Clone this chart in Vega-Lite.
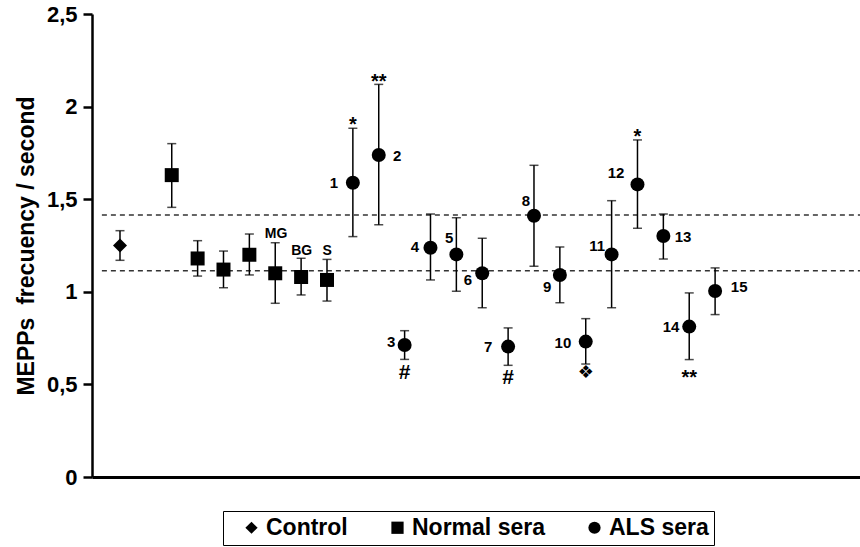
{
  "$schema": "https://vega.github.io/schema/vega-lite/v6.json",
  "width": 768,
  "height": 463,
  "autosize": {"type": "none"},
  "padding": {"left": 92, "top": 14, "right": 0, "bottom": 70},
  "background": "white",
  "config": {
    "view": {"stroke": null},
    "font": "Liberation Sans",
    "text": {"font": "Liberation Sans", "fontWeight": "bold", "color": "black"},
    "axis": {
      "grid": false,
      "domainColor": "black",
      "tickColor": "black",
      "labelColor": "black",
      "titleColor": "black",
      "labelFont": "Liberation Sans",
      "titleFont": "Liberation Sans",
      "labelFontWeight": "bold",
      "titleFontWeight": "bold"
    },
    "axisX": {"domainWidth": 3, "ticks": false, "labels": false, "title": null},
    "axisY": {"domainWidth": 2.5, "tickWidth": 2.5, "tickSize": 9, "labelFontSize": 22, "labelPadding": 6, "titleFontSize": 23, "titlePadding": 8}
  },
  "datasets": {
    "points": [
      {"group": "Control", "idx": 1, "mean": 1.25, "lo": 1.17, "hi": 1.33},
      {"group": "Normal sera", "idx": 3, "mean": 1.63, "lo": 1.456, "hi": 1.80},
      {"group": "Normal sera", "idx": 4, "mean": 1.18, "lo": 1.085, "hi": 1.276},
      {"group": "Normal sera", "idx": 5, "mean": 1.12, "lo": 1.022, "hi": 1.22},
      {"group": "Normal sera", "idx": 6, "mean": 1.20, "lo": 1.091, "hi": 1.312},
      {"group": "Normal sera", "idx": 7, "mean": 1.10, "lo": 0.938, "hi": 1.265},
      {"group": "Normal sera", "idx": 8, "mean": 1.08, "lo": 0.983, "hi": 1.181},
      {"group": "Normal sera", "idx": 9, "mean": 1.064, "lo": 0.95, "hi": 1.175},
      {"group": "ALS sera", "idx": 10, "mean": 1.589, "lo": 1.298, "hi": 1.883},
      {"group": "ALS sera", "idx": 11, "mean": 1.739, "lo": 1.362, "hi": 2.12},
      {"group": "ALS sera", "idx": 12, "mean": 0.713, "lo": 0.635, "hi": 0.79},
      {"group": "ALS sera", "idx": 13, "mean": 1.238, "lo": 1.064, "hi": 1.42},
      {"group": "ALS sera", "idx": 14, "mean": 1.202, "lo": 1.003, "hi": 1.40},
      {"group": "ALS sera", "idx": 15, "mean": 1.10, "lo": 0.914, "hi": 1.289},
      {"group": "ALS sera", "idx": 16, "mean": 0.704, "lo": 0.603, "hi": 0.805},
      {"group": "ALS sera", "idx": 17, "mean": 1.411, "lo": 1.138, "hi": 1.683},
      {"group": "ALS sera", "idx": 18, "mean": 1.091, "lo": 0.941, "hi": 1.242},
      {"group": "ALS sera", "idx": 19, "mean": 0.731, "lo": 0.61, "hi": 0.855},
      {"group": "ALS sera", "idx": 20, "mean": 1.202, "lo": 0.914, "hi": 1.492},
      {"group": "ALS sera", "idx": 21, "mean": 1.58, "lo": 1.343, "hi": 1.82},
      {"group": "ALS sera", "idx": 22, "mean": 1.301, "lo": 1.177, "hi": 1.42},
      {"group": "ALS sera", "idx": 23, "mean": 0.812, "lo": 0.634, "hi": 0.994},
      {"group": "ALS sera", "idx": 24, "mean": 1.004, "lo": 0.877, "hi": 1.129}
    ],
    "refs": [{"level": 1.415}, {"level": 1.114}],
    "annotations": [
      {"kind": "num", "px": 9.27, "py": 1.59, "label": "1"},
      {"kind": "num", "px": 11.71, "py": 1.735, "label": "2"},
      {"kind": "num", "px": 11.48, "py": 0.73, "label": "3"},
      {"kind": "num", "px": 12.4, "py": 1.243, "label": "4"},
      {"kind": "num", "px": 13.72, "py": 1.29, "label": "5"},
      {"kind": "num", "px": 14.45, "py": 1.064, "label": "6"},
      {"kind": "num", "px": 15.23, "py": 0.704, "label": "7"},
      {"kind": "num", "px": 16.69, "py": 1.492, "label": "8"},
      {"kind": "num", "px": 17.51, "py": 1.028, "label": "9"},
      {"kind": "num", "px": 18.12, "py": 0.725, "label": "10"},
      {"kind": "num", "px": 19.44, "py": 1.247, "label": "11"},
      {"kind": "num", "px": 20.17, "py": 1.64, "label": "12"},
      {"kind": "num", "px": 22.76, "py": 1.294, "label": "13"},
      {"kind": "num", "px": 22.3, "py": 0.812, "label": "14"},
      {"kind": "num", "px": 24.93, "py": 1.028, "label": "15"},
      {"kind": "code", "px": 7.03, "py": 1.312, "label": "MG"},
      {"kind": "code", "px": 8.02, "py": 1.222, "label": "BG"},
      {"kind": "code", "px": 9.01, "py": 1.222, "label": "S"},
      {"kind": "star", "px": 10, "py": 1.928, "label": "*"},
      {"kind": "star", "px": 11, "py": 2.161, "label": "**"},
      {"kind": "star", "px": 21, "py": 1.864, "label": "*"},
      {"kind": "star", "px": 23, "py": 0.563, "label": "**"},
      {"kind": "hash", "px": 12, "py": 0.56, "label": "#"},
      {"kind": "hash", "px": 16, "py": 0.533, "label": "#"},
      {"kind": "sym", "px": 19, "py": 0.56, "label": "❖"}
    ]
  },
  "layer": [
    {
      "data": {"name": "refs"},
      "mark": {"type": "rule", "strokeDash": [5, 4], "color": "#333333", "strokeWidth": 1.5},
      "encoding": {
        "y": {"field": "level", "type": "quantitative", "scale": {"domain": [0, 2.5], "nice": false, "zero": false}},
        "x": {"datum": 0.3, "type": "quantitative", "scale": {"domain": [-0.082, 29.6], "nice": false, "zero": false}},
        "x2": {"datum": 29.6}
      }
    },
    {
      "data": {"name": "points"},
      "mark": {"type": "rule", "color": "black", "strokeWidth": 1.5},
      "encoding": {
        "x": {"field": "idx", "type": "quantitative", "scale": {"domain": [-0.082, 29.6], "nice": false, "zero": false}},
        "y": {"field": "lo", "type": "quantitative", "scale": {"domain": [0, 2.5], "nice": false, "zero": false}},
        "y2": {"field": "hi"}
      }
    },
    {
      "data": {"name": "points"},
      "mark": {"type": "tick", "orient": "horizontal", "color": "black", "size": 9, "thickness": 1.5},
      "encoding": {
        "x": {"field": "idx", "type": "quantitative", "scale": {"domain": [-0.082, 29.6], "nice": false, "zero": false}},
        "y": {"field": "lo", "type": "quantitative", "scale": {"domain": [0, 2.5], "nice": false, "zero": false}}
      }
    },
    {
      "data": {"name": "points"},
      "mark": {"type": "tick", "orient": "horizontal", "color": "black", "size": 9, "thickness": 1.5},
      "encoding": {
        "x": {"field": "idx", "type": "quantitative", "scale": {"domain": [-0.082, 29.6], "nice": false, "zero": false}},
        "y": {"field": "hi", "type": "quantitative", "scale": {"domain": [0, 2.5], "nice": false, "zero": false}}
      }
    },
    {
      "data": {"name": "points"},
      "mark": {"type": "point", "filled": true, "opacity": 1, "size": 196},
      "encoding": {
        "x": {
          "field": "idx", "type": "quantitative",
          "scale": {"domain": [-0.082, 29.6], "nice": false, "zero": false},
          "axis": {"title": null, "labels": false, "ticks": false, "grid": false}
        },
        "y": {
          "field": "mean", "type": "quantitative",
          "scale": {"domain": [0, 2.5], "nice": false, "zero": false},
          "axis": {
            "title": "MEPPs\u00a0 frecuency / second",
            "values": [0, 0.5, 1, 1.5, 2, 2.5],
            "labelExpr": "replace(toString(datum.value), '.', ',')"
          }
        },
        "shape": {
          "field": "group", "type": "nominal",
          "scale": {"domain": ["Control", "Normal sera", "ALS sera"], "range": ["diamond", "square", "circle"]},
          "legend": {
            "title": " ", "titleOrient": "left", "titleFontSize": 23, "titlePadding": 12,
            "orient": "none", "legendX": 131, "legendY": 497, "direction": "horizontal",
            "labelFont": "Liberation Sans", "labelFontSize": 23, "labelFontWeight": "bold", "labelColor": "black",
            "labelOffset": 3, "columnPadding": 38, "padding": 5,
            "symbolSize": 150, "symbolFillColor": "black", "symbolStrokeWidth": 0,
            "strokeColor": "black", "fillColor": "white", "labelLimit": 300,
            "encode": {"legend": {"update": {"strokeWidth": {"value": 2}}}}
          }
        },
        "color": {"value": "black"}
      }
    },
    {
      "data": {"name": "annotations"},
      "transform": [{"filter": "datum.kind == 'num'"}],
      "mark": {"type": "text", "fontSize": 15, "baseline": "middle", "align": "center"},
      "encoding": {
        "x": {"field": "px", "type": "quantitative", "scale": {"domain": [-0.082, 29.6], "nice": false, "zero": false}},
        "y": {"field": "py", "type": "quantitative", "scale": {"domain": [0, 2.5], "nice": false, "zero": false}},
        "text": {"field": "label", "type": "nominal"}
      }
    },
    {
      "data": {"name": "annotations"},
      "transform": [{"filter": "datum.kind == 'code'"}],
      "mark": {"type": "text", "fontSize": 14, "baseline": "middle", "align": "center"},
      "encoding": {
        "x": {"field": "px", "type": "quantitative", "scale": {"domain": [-0.082, 29.6], "nice": false, "zero": false}},
        "y": {"field": "py", "type": "quantitative", "scale": {"domain": [0, 2.5], "nice": false, "zero": false}},
        "text": {"field": "label", "type": "nominal"}
      }
    },
    {
      "data": {"name": "annotations"},
      "transform": [{"filter": "datum.kind == 'star'"}],
      "mark": {"type": "text", "fontSize": 20, "baseline": "middle", "align": "center", "dy": 5},
      "encoding": {
        "x": {"field": "px", "type": "quantitative", "scale": {"domain": [-0.082, 29.6], "nice": false, "zero": false}},
        "y": {"field": "py", "type": "quantitative", "scale": {"domain": [0, 2.5], "nice": false, "zero": false}},
        "text": {"field": "label", "type": "nominal"}
      }
    },
    {
      "data": {"name": "annotations"},
      "transform": [{"filter": "datum.kind == 'hash'"}],
      "mark": {"type": "text", "fontSize": 21, "baseline": "middle", "align": "center"},
      "encoding": {
        "x": {"field": "px", "type": "quantitative", "scale": {"domain": [-0.082, 29.6], "nice": false, "zero": false}},
        "y": {"field": "py", "type": "quantitative", "scale": {"domain": [0, 2.5], "nice": false, "zero": false}},
        "text": {"field": "label", "type": "nominal"}
      }
    },
    {
      "data": {"name": "annotations"},
      "transform": [{"filter": "datum.kind == 'sym'"}],
      "mark": {"type": "text", "fontSize": 18, "font": "DejaVu Sans", "fontWeight": "normal", "baseline": "middle", "align": "center"},
      "encoding": {
        "x": {"field": "px", "type": "quantitative", "scale": {"domain": [-0.082, 29.6], "nice": false, "zero": false}},
        "y": {"field": "py", "type": "quantitative", "scale": {"domain": [0, 2.5], "nice": false, "zero": false}},
        "text": {"field": "label", "type": "nominal"}
      }
    }
  ]
}
